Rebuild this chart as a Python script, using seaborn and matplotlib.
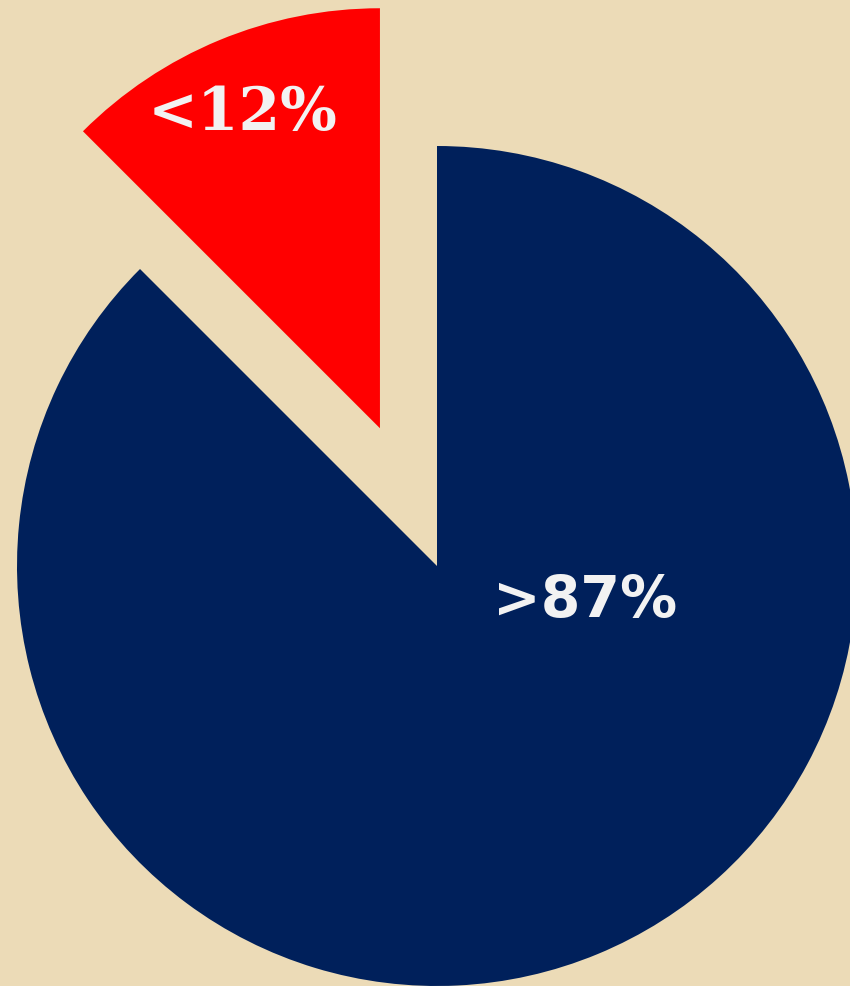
import matplotlib
matplotlib.use("Agg")
import matplotlib.pyplot as plt
import seaborn as sns

# Data
labels = ["<12%", ">87%"]
shares = [12.5, 87.5]
colors = ["#FF0000", "#00205B"]
explode = [0.355, 0.0]

sns.set_style("white")

fig = plt.figure(figsize=(8.5, 9.87), dpi=100)
fig.patch.set_facecolor("#ECDBB7")
ax = fig.add_axes([0, 0, 1, 1])
ax.set_facecolor("#ECDBB7")

ax.pie(
    shares,
    colors=colors,
    explode=explode,
    startangle=90,
    counterclock=True,
    radius=1.0,
    wedgeprops=dict(linewidth=0),
)

# labels
ax.text(-0.462, 1.0405, labels[0], color="#F2F2F2", fontsize=43,
        fontweight="bold", family="DejaVu Serif", ha="center", va="baseline")
ax.text(0.352, -0.119, labels[1], color="#F2F2F2", fontsize=41,
        fontweight="bold", family="DejaVu Sans", ha="center", va="baseline")

ax.set_xlim(-437 / 420, (850 - 437) / 420)
ax.set_ylim(-1.0, 567 / 420)
ax.set_aspect("equal")
ax.axis("off")

fig.savefig("out.png", dpi=100, facecolor=fig.get_facecolor())
